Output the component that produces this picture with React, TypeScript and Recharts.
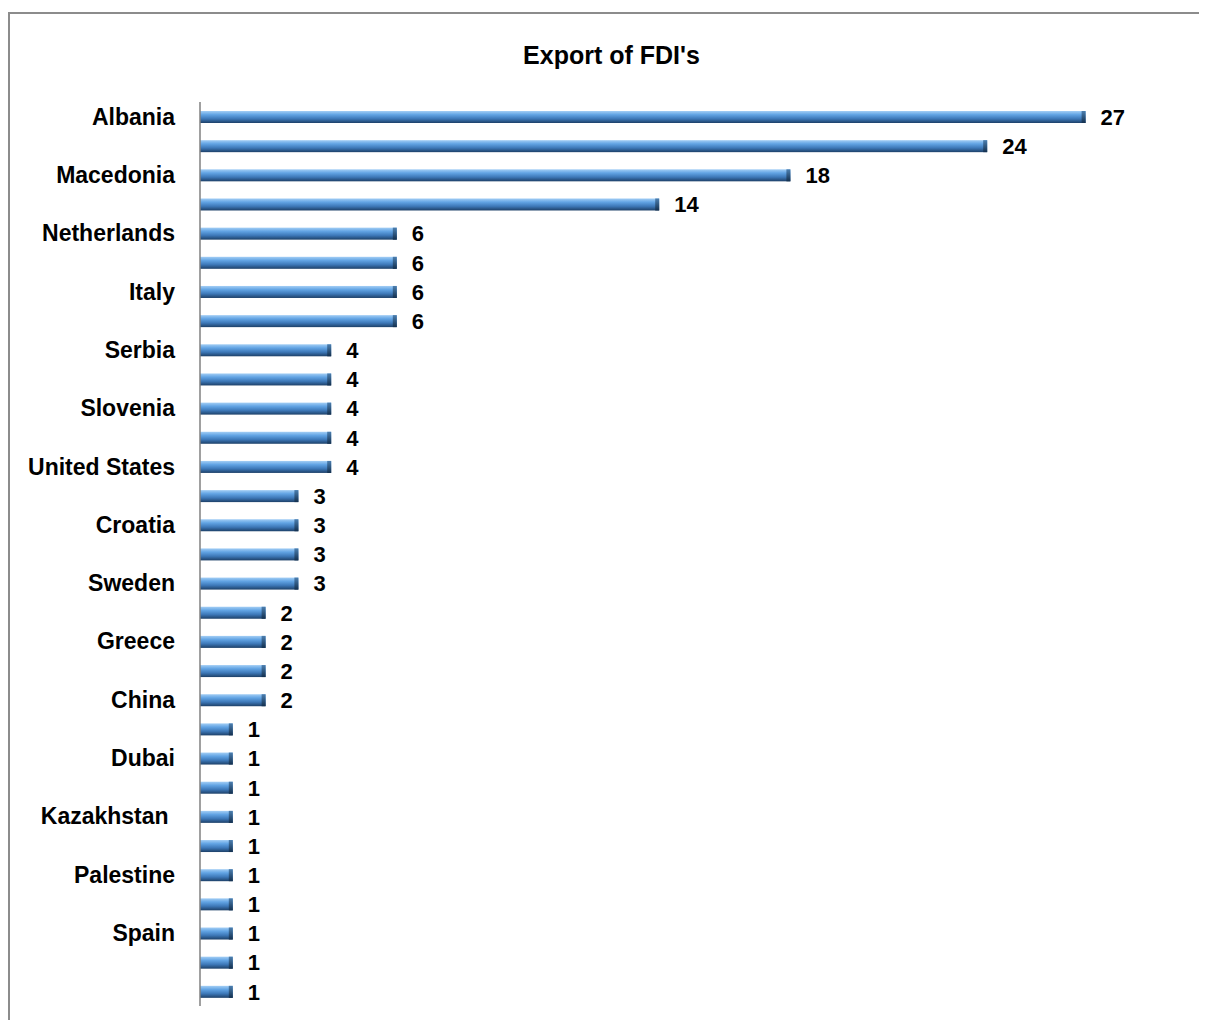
import { Bar, BarChart, LabelList, XAxis, YAxis } from 'recharts'

const countries = [
  'Albania', '', 'Macedonia', '', 'Netherlands', '', 'Italy', '', 'Serbia', '',
  'Slovenia', '', 'United States', '', 'Croatia', '', 'Sweden', '', 'Greece', '',
  'China', '', 'Dubai', '', 'Kazakhstan ', '', 'Palestine', '', 'Spain', '', '',
]
const fdiCount = [
  27, 24, 18, 14, 6, 6, 6, 6, 4, 4, 4, 4, 4, 3, 3, 3, 3, 2, 2, 2, 2, 1, 1, 1, 1, 1, 1, 1, 1, 1, 1,
]
const xDomain = [0, 30]

const data = countries.map((name, i) => ({ name, value: fdiCount[i] }))

const font = '"Liberation Sans", Arial, sans-serif'

function CountryTick(props: any) {
  const { x, y, payload } = props
  const label = countries[payload.value] ?? ''
  return (
    <text
      x={x - 17}
      y={y}
      dy={8}
      textAnchor='end'
      fontFamily={font}
      fontWeight='bold'
      fontSize={23}
      fill='#000'
      style={{ whiteSpace: 'pre' }}
    >
      {label}
    </text>
  )
}

function TubeBar(props: any) {
  const { x, y, width, height } = props
  if (!width || width <= 0) return null
  return (
    <g>
      <rect x={x} y={y} width={width} height={height} fill='url(#tube)' />
      <rect x={x + width - 4} y={y} width={4} height={height} fill='url(#tubeEnd)' />
    </g>
  )
}

export default function App() {
  return (
    <div style={{ position: 'relative', width: 1199, height: 1012 }}>
      <div
        style={{
          position: 'absolute',
          left: 0,
          top: 4,
          width: 1199,
          height: 1008,
          borderTop: '2px solid #8c8c8c',
          borderLeft: '2px solid #8c8c8c',
          boxSizing: 'border-box',
        }}
      />
      <div
        style={{
          position: 'absolute',
          left: 6,
          top: 33,
          width: 1195,
          textAlign: 'center',
          fontFamily: font,
          fontWeight: 'bold',
          fontSize: 25,
          color: '#000',
        }}
      >
        Export of FDI's
      </div>
      <div style={{ position: 'absolute', left: 0, top: 0 }}>
        <BarChart
          width={1199}
          height={1012}
          data={data}
          layout='vertical'
          margin={{ top: 94, right: 23, bottom: 14, left: 0 }}
          barCategoryGap={0}
        >
          <defs>
            <linearGradient id='tube' x1='0' y1='0' x2='0' y2='1'>
              <stop offset='0%' stopColor='#a3cef5' />
              <stop offset='30%' stopColor='#62a4e4' />
              <stop offset='65%' stopColor='#3d78b8' />
              <stop offset='100%' stopColor='#1d4068' />
            </linearGradient>
            <linearGradient id='tubeEnd' x1='0' y1='0' x2='0' y2='1'>
              <stop offset='0%' stopColor='#4c7fb0' />
              <stop offset='100%' stopColor='#13304f' />
            </linearGradient>
          </defs>
          <XAxis type='number' domain={xDomain} hide />
          <YAxis
            type='category'
            width={192}
            interval={0}
            tickLine={false}
            axisLine={{ stroke: '#808080', strokeWidth: 1.5 }}
            tick={<CountryTick />}
          />
          <Bar dataKey='value' barSize={12} shape={<TubeBar />} isAnimationActive={false}>
            <LabelList
              dataKey='value'
              position='right'
              offset={15}
              fill='#000'
              fontFamily={font}
              fontWeight='bold'
              fontSize={22}
            />
          </Bar>
        </BarChart>
      </div>
    </div>
  )
}
